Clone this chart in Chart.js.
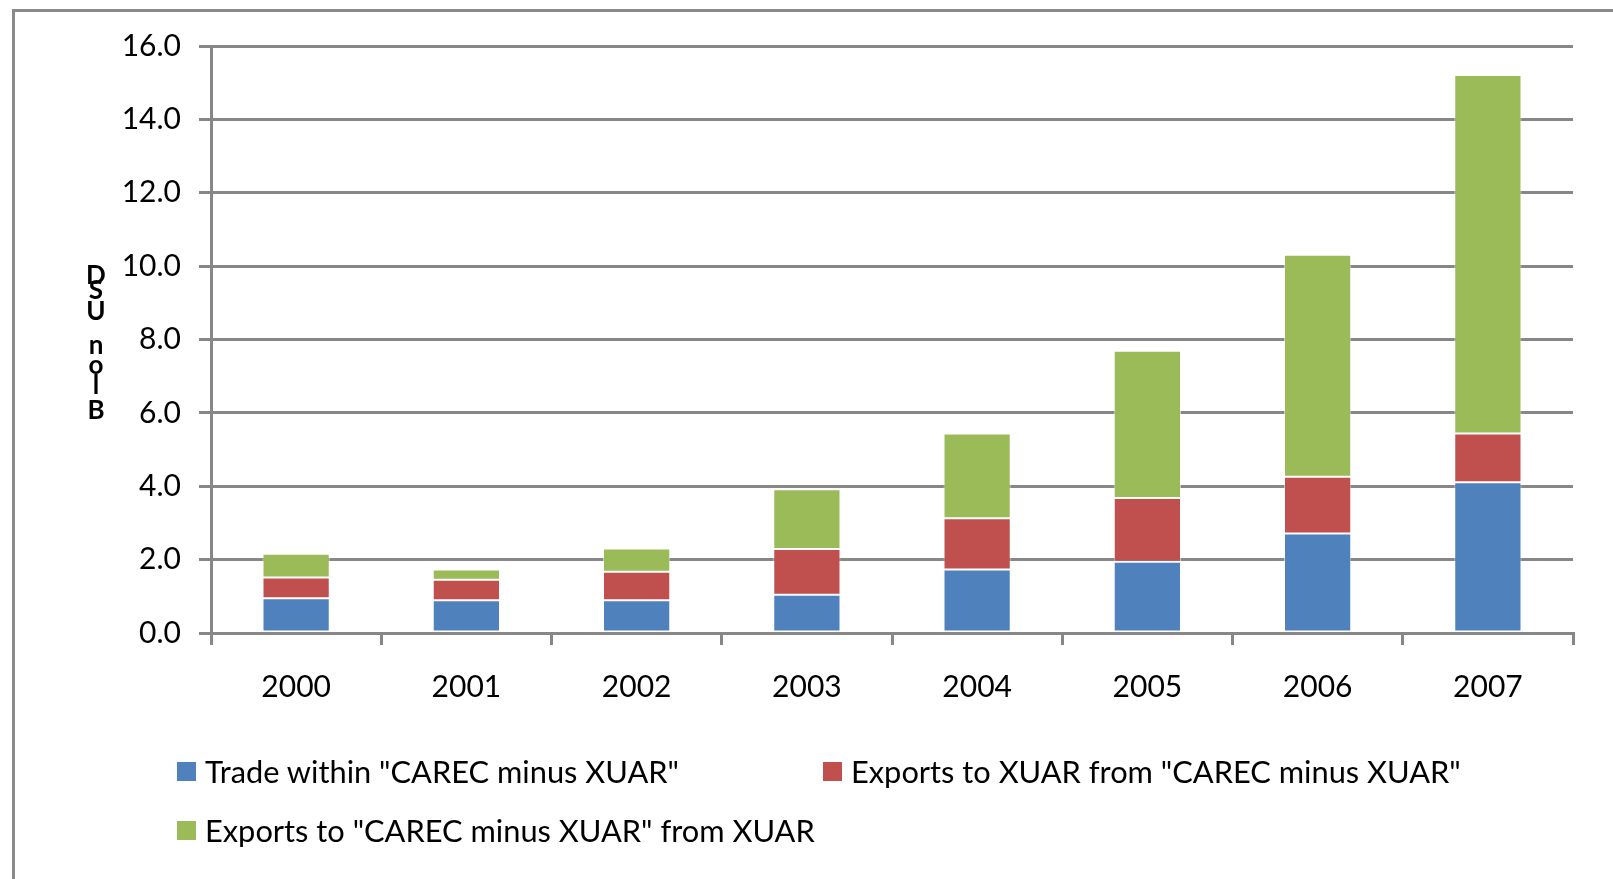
<!DOCTYPE html>
<html>
<head>
<meta charset="utf-8">
<script src="https://cdn.jsdelivr.net/npm/chart.js@4.4.0/dist/chart.umd.min.js"></script>
<style>
    html, body { margin: 0; padding: 0; background: #fff; overflow: hidden; }
    body { width: 1613px; height: 879px; position: relative; font-family: Lato, "Open Sans", sans-serif; }
    #frame { position: absolute; left: 12px; top: 9px; width: 1620px; height: 900px; border: 3px solid #8a8a8a; box-sizing: border-box; }
    #wrap { position: absolute; left: 0; top: 0; width: 1613px; height: 879px; }
    #ytitle { position: absolute; left: 84px; top: 258px; width: 24px; font-weight: bold; font-size: 26px; color: #000; }
    #ytitle span { position: absolute; left: 0; width: 24px; text-align: center; }
    .legend-item { position: absolute; display: flex; align-items: center; font-size: 30.8px; color: #000; white-space: pre; }
    .legend-item i { display: inline-block; width: 19px; height: 19px; margin-right: 9px; }
</style>
</head>
<body>
<div id="frame"></div>
<div id="wrap"><canvas id="chart" width="1613" height="879"></canvas></div>
<div id="ytitle"></div>
<div id="legend"></div>
<script>
// years on the category axis
const years = ['2000', '2001', '2002', '2003', '2004', '2005', '2006', '2007'];

// stacked segments (bn USD)
const tradeWithin = [0.95, 0.89, 0.89, 1.04, 1.73, 1.94, 2.71, 4.11];
const exportsToXuar = [0.56, 0.56, 0.78, 1.25, 1.40, 1.74, 1.55, 1.33];
const exportsFromXuar = [0.65, 0.28, 0.63, 1.63, 2.31, 4.01, 6.05, 9.77];

const seriesLabels = [
    'Trade within "CAREC minus XUAR"',
    'Exports to XUAR from "CAREC minus XUAR"',
    'Exports to "CAREC minus XUAR" from XUAR'
];
const seriesColors = ['#4f81bd', '#c0504d', '#9bbb59'];

// y axis title, drawn as stacked upright letters like the original
const yTitleChars = ['D', 'S', 'U', 'n', 'o', 'l', 'B'];
const yTitleOffsets = [0, 15, 36, 70, 90, 110, 135];

const gridGray = '#878787';
const font = { family: 'Lato, "Open Sans", sans-serif', size: 30 };

const datasets = [tradeWithin, exportsToXuar, exportsFromXuar].map((data, i) => ({
    label: seriesLabels[i],
    data: data,
    backgroundColor: seriesColors[i],
    borderColor: 'rgba(255,255,255,0.55)',
    borderWidth: 1,
    borderSkipped: false,
    barPercentage: 0.395,
    categoryPercentage: 1.0
}));

new Chart(document.getElementById('chart'), {
    type: 'bar',
    data: { labels: years, datasets: datasets },
    options: {
        responsive: false,
        animation: false,
        layout: { padding: { left: 0, top: 46, right: 40, bottom: 156 } },
        plugins: {
            legend: { display: false },
            tooltip: { enabled: false }
        },
        scales: {
            x: {
                stacked: true,
                grid: {
                    display: true,
                    offset: true,
                    drawOnChartArea: false,
                    drawTicks: true,
                    tickLength: 12,
                    color: gridGray,
                    lineWidth: 3
                },
                border: { display: true, color: gridGray, width: 3 },
                ticks: { color: '#000', font: font, padding: 24 },
                afterFit: function(scale) { scale.height = 90; }
            },
            y: {
                stacked: true,
                min: 0,
                max: 16,
                grid: {
                    color: gridGray,
                    lineWidth: 3,
                    drawTicks: true,
                    tickLength: 12
                },
                border: { display: true, color: gridGray, width: 3 },
                ticks: {
                    stepSize: 2,
                    color: '#000',
                    font: font,
                    padding: 18,
                    callback: function(value) { return value.toFixed(1); }
                },
                afterFit: function(scale) { scale.width = 211; }
            }
        }
    }
});

// y axis title
const yTitle = document.getElementById('ytitle');
yTitleChars.forEach((ch, i) => {
    const s = document.createElement('span');
    s.textContent = ch;
    s.style.top = yTitleOffsets[i] + 'px';
    yTitle.appendChild(s);
});

// legend laid out like the original (two rows)
const legendSpots = [[177, 753], [823, 753], [177, 812]];
const legend = document.getElementById('legend');
seriesLabels.forEach((label, i) => {
    const item = document.createElement('div');
    item.className = 'legend-item';
    item.style.left = legendSpots[i][0] + 'px';
    item.style.top = legendSpots[i][1] + 'px';
    const sw = document.createElement('i');
    sw.style.background = seriesColors[i];
    item.appendChild(sw);
    item.appendChild(document.createTextNode(label));
    legend.appendChild(item);
});
</script>
</body>
</html>
